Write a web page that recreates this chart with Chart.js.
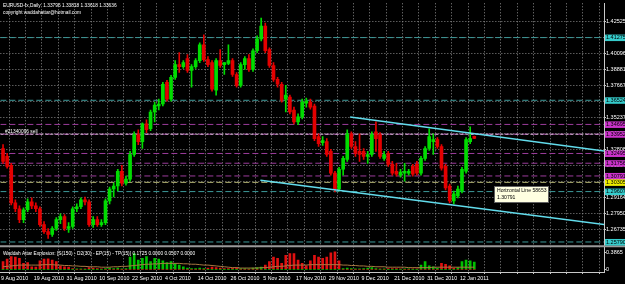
<!DOCTYPE html>
<html>
<head>
<meta charset="utf-8">
<script src="https://cdn.jsdelivr.net/npm/chart.js@4.4.0/dist/chart.umd.min.js"></script>
<style>
html, body { margin: 0; padding: 0; background: #000; }
#wrap { width: 625px; height: 284px; }
</style>
</head>
<body>
<div id="wrap"><canvas id="mt4" width="625" height="284"></canvas></div>
<script>
// EURUSD daily bars, one per trading day from 9 Aug 2010 (index 0) to 17 Jan 2011
var opens = [1.3287,1.3227,1.3160,1.2875,1.2831,1.2748,1.2823,1.2883,1.2853,1.2831,
  1.2711,1.2658,1.2636,1.2681,1.2748,1.2771,1.2681,1.2696,1.2831,1.2846,
  1.2898,1.2883,1.2711,1.2748,1.2711,1.2726,1.2890,1.2980,1.3003,1.3115,
  1.3025,1.3055,1.3242,1.3392,1.3339,1.3474,1.3437,1.3564,1.3609,1.3624,
  1.3788,1.3661,1.3826,1.3923,1.3908,1.3968,1.3878,1.3908,1.3953,1.4073,
  1.3961,1.3938,1.3729,1.3953,1.3923,1.3931,1.3953,1.3848,1.3766,1.3923,
  1.3968,1.3886,1.4028,1.4118,1.4215,1.4036,1.3916,1.3811,1.3774,1.3661,
  1.3676,1.3579,1.3489,1.3527,1.3631,1.3639,1.3609,1.3377,1.3332,1.3339,
  1.3265,1.3100,1.2980,1.3130,1.3205,1.3399,1.3302,1.3265,1.3265,1.3227,
  1.3242,1.3414,1.3392,1.3212,1.3250,1.3167,1.3115,1.3085,1.3100,1.3100,
  1.3152,1.3167,1.3100,1.3212,1.3287,1.3339,1.3354,1.3302,1.3152,1.3003,
  1.2890,1.2928,1.2965,1.3115,1.3339,1.33796];
var highs = [1.3317,1.3250,1.3175,1.2898,1.2853,1.2838,1.2905,1.2913,1.2875,1.2846,
  1.2733,1.2681,1.2696,1.2763,1.2793,1.2786,1.2726,1.2846,1.2868,1.2913,
  1.2920,1.2898,1.2771,1.2771,1.2748,1.2905,1.2995,1.3025,1.3130,1.3160,
  1.3078,1.3265,1.3414,1.3429,1.3482,1.3504,1.3579,1.3639,1.3661,1.3788,
  1.3803,1.3841,1.3953,1.4013,1.3953,1.3998,1.3923,1.3968,1.4088,1.4148,
  1.3983,1.3953,1.3968,1.4036,1.3938,1.4073,1.3968,1.3863,1.3938,1.3983,
  1.3998,1.4043,1.4140,1.4275,1.4238,1.4050,1.3938,1.3826,1.3788,1.3766,
  1.3691,1.3601,1.3549,1.3661,1.3669,1.3661,1.3624,1.3399,1.3377,1.3362,
  1.3280,1.3115,1.3145,1.3227,1.3429,1.3414,1.3339,1.3399,1.3287,1.3265,
  1.3414,1.3489,1.3407,1.3265,1.3265,1.3190,1.3175,1.3130,1.3175,1.3130,
  1.3167,1.3190,1.3227,1.3302,1.3437,1.3399,1.3369,1.3317,1.3167,1.3018,
  1.2965,1.3003,1.3145,1.3369,1.3452,1.33818];
var lows = [1.3175,1.3138,1.2860,1.2808,1.2726,1.2726,1.2808,1.2831,1.2808,1.2696,
  1.2644,1.2606,1.2621,1.2666,1.2718,1.2666,1.2651,1.2681,1.2808,1.2831,
  1.2860,1.2696,1.2689,1.2696,1.2696,1.2711,1.2868,1.2920,1.2965,1.3003,
  1.3010,1.3040,1.3227,1.3317,1.3287,1.3407,1.3422,1.3489,1.3579,1.3609,
  1.3646,1.3646,1.3811,1.3863,1.3893,1.3863,1.3751,1.3893,1.3938,1.3946,
  1.3908,1.3721,1.3691,1.3901,1.3848,1.3923,1.3833,1.3751,1.3751,1.3886,
  1.3871,1.3871,1.4013,1.4103,1.4013,1.3901,1.3796,1.3751,1.3639,1.3564,
  1.3549,1.3474,1.3467,1.3512,1.3601,1.3586,1.3347,1.3302,1.3310,1.3227,
  1.3085,1.2958,1.2965,1.3085,1.3190,1.3287,1.3227,1.3190,1.3205,1.3175,
  1.3227,1.3265,1.3212,1.3197,1.3152,1.3085,1.3078,1.3070,1.3040,1.3085,
  1.3078,1.3085,1.3085,1.3197,1.3272,1.3242,1.3287,1.3123,1.2973,1.2875,
  1.2868,1.2913,1.2950,1.3100,1.3324,1.33618];
var closes = [1.3190,1.3152,1.2875,1.2831,1.2748,1.2823,1.2883,1.2853,1.2831,1.2711,
  1.2658,1.2636,1.2681,1.2748,1.2771,1.2681,1.2696,1.2831,1.2846,1.2898,
  1.2883,1.2711,1.2748,1.2711,1.2726,1.2890,1.2980,1.3003,1.3115,1.3025,
  1.3055,1.3242,1.3392,1.3339,1.3474,1.3429,1.3564,1.3616,1.3624,1.3774,
  1.3661,1.3826,1.3923,1.3908,1.3938,1.3878,1.3908,1.3953,1.4073,1.3961,
  1.3923,1.3736,1.3953,1.3916,1.3938,1.3953,1.3848,1.3766,1.3923,1.3968,
  1.3886,1.4028,1.4118,1.4215,1.4028,1.3916,1.3811,1.3774,1.3654,1.3691,
  1.3564,1.3489,1.3527,1.3639,1.3646,1.3601,1.3362,1.3324,1.3347,1.3242,
  1.3100,1.2980,1.3130,1.3212,1.3399,1.3302,1.3250,1.3242,1.3227,1.3242,
  1.3392,1.3362,1.3227,1.3242,1.3167,1.3100,1.3093,1.3108,1.3115,1.3115,
  1.3093,1.3100,1.3212,1.3287,1.3377,1.3354,1.3302,1.3138,1.2988,1.2890,
  1.2943,1.2980,1.3130,1.3354,1.3362,1.33636];

// Waddah Attar Explosion sub-window
var waeUp = [0,0,0,0,0,0,0,0,0,0,0,0,0,0,0,0,0,0,0.01,0.01,
  0,0,0,0,0,0.02,0.03,0.02,0.03,0.01,0.02,
  0.29,0.37,0.22,0.26,0.30,0.18,0.26,0.24,0.20,0.16,0.18,0.14,0.10,0.06,0.03,0.02,0.02,0.03,0.02,
  0,0,0,0,0,0,0,0,
  0.02,0.02,0.01,0.03,0.04,0.05,
  0,0,0,0,0,0,0,0,0,0,0,0,0,0,0,0,0,0,0,
  0.02,0.03,0.02,0.01,0.01,0.02,0.03,0.04,0.02,
  0,0.01,0,0,0,0,0.01,0.01,0,0,
  0.10,0.18,0.08,0.06,0.03,
  0,0,0,0,
  0.04,0.18,0.22,0.20,0.1725];
var waeDown = [0.18,0.24,0.30,0.29,0.26,0.14,0.16,0.06,0.05,0.20,0.24,0.25,0.22,0.18,0.08,0.06,0.05,0.02,
  0,0,
  0.01,0.04,0.03,0.02,0.01,
  0,0,0,0,0,0,0,0,0,0,0,0,0,0,0,0,0,0,0,0,0,0,0,0,0,
  0.03,0.05,0.04,0.03,0.02,0.02,0.03,0.04,
  0,0,0,0,0,0,
  0.10,0.18,0.29,0.26,0.14,0.33,0.37,0.37,0.22,0.14,0.08,0.20,0.33,0.29,0.26,0.29,0.39,0.41,0.20,
  0,0,0,0,0,0,0,0,0,
  0.01,0,0.02,0.02,0.02,0.01,0,0,0.01,0.01,
  0,0,0,0,0,
  0.14,0.12,0.08,0.03,
  0,0,0,0,0];
var waeExplosion = [0.06,0.07,0.08,0.09,0.10,0.10,0.10,0.10,0.10,0.10,0.11,0.11,0.11,0.10,0.10,0.09,0.09,
  0.08,0.08,0.07,0.07,0.06,0.06,0.06,0.05,0.05,0.05,0.06,0.06,0.07,0.07,
  0.08,0.09,0.10,0.11,0.12,0.12,0.13,0.13,0.14,0.14,0.14,0.14,0.14,0.13,0.13,
  0.12,0.12,0.11,0.10,0.10,0.09,0.08,0.07,0.06,0.05,0.04,0.04,0.03,0.03,0.03,0.03,0.03,0.04,
  0.04,0.05,0.06,0.07,0.07,0.08,0.09,0.10,0.10,0.10,0.10,0.11,0.11,0.11,0.11,0.11,0.11,0.11,0.11,
  0.10,0.10,0.09,0.09,0.08,0.08,0.07,0.07,0.06,0.06,0.06,0.05,0.05,0.05,0.05,0.05,0.04,0.04,0.04,0.04,
  0.04,0.04,0.05,0.05,0.05,0.05,0.05,0.05,0.05,0.05,0.05,0.05,0.05];

// axis labels
var dateLabels = ['9 Aug 2010','19 Aug 2010','31 Aug 2010','10 Sep 2010','22 Sep 2010','4 Oct 2010','14 Oct 2010',
  '26 Oct 2010','5 Nov 2010','17 Nov 2010','29 Nov 2010','9 Dec 2010','21 Dec 2010','31 Dec 2010','12 Jan 2011'];
var dateIndex = [0,8,16,24,32,40,48,56,64,72,80,88,96,104,112];
var priceTicks = [1.42525,1.41310,1.40096,1.38881,1.37667,1.36452,1.35237,1.34023,1.32808,1.31594,1.30379,1.29164,1.27950,1.26735];
var waeTicks = [0, 0.3865];

// horizontal lines drawn on the chart
var levelPrices = [1.41275,1.36524,1.34695,1.33952,1.32495,1.31756,1.30791,1.30305,1.29607,1.25790];
var levelKinds = ['c','c','m','m','m','m','m','y','c','c'];
var sellPrice = 1.33952;
// trend lines: [bar index, price]
var upperTrend = [[84.7, 1.3526], [146.7, 1.3268]];
var lowerTrend = [[62.8, 1.3047], [146.7, 1.2711]];

var X_MIN = -0.66, X_MAX = 146.66;
var BULL = '#00dc00', BEAR = '#e40000';
var lineCol = { c: '#3c9a9a', m: '#9c3c9c', y: '#b0b070' };
var boxCol = { c: '#36cccc', m: '#cc33cc', y: '#eeee00' };
var FONT = '"Liberation Sans", Arial, sans-serif';

var idx = opens.map(function(_, i) { return i; });
function candleColor(c) {
  var i = c.dataIndex;
  return closes[i] >= opens[i] ? BULL : BEAR;
}

var datasets = [];
datasets.push({
  type: 'bar', label: 'wick', order: 3, grouped: false, barThickness: 1,
  data: idx.map(function(i) { return { x: i, y: [lows[i], highs[i]] }; }),
  backgroundColor: candleColor, xAxisID: 'x', yAxisID: 'y'
});
datasets.push({
  type: 'bar', label: 'body', order: 2, grouped: false, barThickness: 3, minBarLength: 1,
  data: idx.map(function(i) { return { x: i, y: [opens[i], closes[i]] }; }),
  backgroundColor: candleColor, xAxisID: 'x', yAxisID: 'y'
});
levelPrices.forEach(function(p, k) {
  datasets.push({
    type: 'line', order: 5, borderColor: lineCol[levelKinds[k]], borderWidth: 1, borderDash: [6, 3],
    pointRadius: 0, data: [{ x: X_MIN, y: p }, { x: X_MAX, y: p }], xAxisID: 'x', yAxisID: 'y'
  });
});
datasets.push({
  type: 'line', order: 4, borderColor: '#d2b4d2', borderWidth: 1, borderDash: [3, 2],
  pointRadius: 0, data: [{ x: X_MIN, y: sellPrice }, { x: X_MAX, y: sellPrice }], xAxisID: 'x', yAxisID: 'y'
});
[upperTrend, lowerTrend].forEach(function(t) {
  datasets.push({
    type: 'line', order: 1, borderColor: '#62dcec', borderWidth: 1.5, pointRadius: 0,
    data: t.map(function(p) { return { x: p[0], y: p[1] }; }), xAxisID: 'x', yAxisID: 'y'
  });
});
datasets.push({
  type: 'bar', order: 3, grouped: false, barThickness: 2, backgroundColor: '#00c000',
  data: idx.map(function(i) { return { x: i, y: waeUp[i] }; }), xAxisID: 'x', yAxisID: 'y2'
});
datasets.push({
  type: 'bar', order: 3, grouped: false, barThickness: 2, backgroundColor: '#e01010',
  data: idx.map(function(i) { return { x: i, y: waeDown[i] }; }), xAxisID: 'x', yAxisID: 'y2'
});
datasets.push({
  type: 'line', order: 2, borderColor: '#a87840', borderWidth: 1, pointRadius: 0,
  data: idx.map(function(i) { return { x: i, y: waeExplosion[i] }; }), xAxisID: 'x', yAxisID: 'y2'
});

var overlay = {
  id: 'overlay',
  beforeDraw: function(chart) {
    var ctx = chart.ctx;
    ctx.save();
    ctx.fillStyle = '#000';
    ctx.fillRect(0, 0, chart.width, chart.height);
    ctx.restore();
  },
  afterDraw: function(chart) {
    var ctx = chart.ctx, ya = chart.scales.y, y2 = chart.scales.y2, area = chart.chartArea;
    ctx.save();
    // sub-window separator
    ctx.strokeStyle = '#9a9a9a';
    ctx.lineWidth = 2;
    ctx.beginPath();
    ctx.moveTo(0, y2.top);
    ctx.lineTo(chart.width, y2.top);
    ctx.stroke();

    ctx.fillStyle = '#ffffff';
    ctx.font = '4.8px ' + FONT;
    ctx.textBaseline = 'top';
    ctx.textAlign = 'left';
    ctx.fillText('EURUSD-fx,Daily  1.33796 1.33818 1.33618 1.33636', 3, 3);
    ctx.fillText('copyright waddahattar@hotmail.com', 3, 10);
    ctx.fillText('Waddah Attar Explosion: [S(150) - D2(30) - EP(15) - TP(15)] 0.1725 0.0000 0.0507 0.0000', 3, y2.top + 5);

    var sy = ya.getPixelForValue(sellPrice);
    ctx.textBaseline = 'bottom';
    ctx.fillText('#21340096 sell', 5, sy - 0.5);

    // price boxes for the horizontal lines
    ctx.font = '5.5px ' + FONT;
    ctx.textBaseline = 'middle';
    levelPrices.forEach(function(p, k) {
      var py = ya.getPixelForValue(p);
      ctx.fillStyle = boxCol[levelKinds[k]];
      ctx.fillRect(area.right + 1, py - 3, 20, 6.5);
      ctx.fillStyle = '#000';
      ctx.fillText(p.toFixed(5), area.right + 2, py + 0.3);
    });

    // object tooltip
    var tx = 494, ty = 186;
    ctx.fillStyle = '#ffffe1';
    ctx.fillRect(tx, ty, 55, 17);
    ctx.strokeStyle = '#606060';
    ctx.lineWidth = 1;
    ctx.strokeRect(tx + 0.5, ty + 0.5, 54, 16);
    ctx.fillStyle = '#000';
    ctx.font = '5.1px ' + FONT;
    ctx.textBaseline = 'top';
    ctx.fillText('Horizontal Line 58653', tx + 3, ty + 2);
    ctx.fillText('1.30791', tx + 3, ty + 9);
    ctx.restore();
  }
};

new Chart(document.getElementById('mt4'), {
  type: 'bar',
  data: { datasets: datasets },
  plugins: [overlay],
  options: {
    responsive: false,
    devicePixelRatio: 1,
    animation: false,
    layout: { padding: 0 },
    plugins: { legend: { display: false }, tooltip: { enabled: false } },
    scales: {
      x: {
        type: 'linear', position: 'bottom', min: X_MIN, max: X_MAX, offset: false,
        afterBuildTicks: function(s) {
          var t = [];
          for (var v = -0.5; v <= X_MAX; v += 4) t.push({ value: v });
          s.ticks = t;
        },
        afterFit: function(s) { s.height = 12; },
        grid: { color: '#8a8a8a', lineWidth: 1, drawTicks: true, tickLength: 2, tickColor: '#c8c8c8' },
        border: { display: true, color: '#c8c8c8', width: 1, dash: [1, 2] },
        ticks: {
          color: '#ffffff', font: { family: FONT, size: 5.3 }, align: 'start', padding: 1,
          autoSkip: false, maxRotation: 0, minRotation: 0,
          callback: function(v) {
            var k = dateIndex.indexOf(v + 0.5);
            return k >= 0 ? dateLabels[k] : '';
          }
        }
      },
      y: {
        type: 'linear', position: 'right', stack: 'mt', stackWeight: 246,
        min: 1.25461, max: 1.43872,
        afterBuildTicks: function(s) { s.ticks = priceTicks.map(function(v) { return { value: v }; }); },
        afterFit: function(s) { s.width = 21; },
        grid: { color: '#8a8a8a', lineWidth: 1, drawTicks: true, tickLength: 2, tickColor: '#c8c8c8' },
        border: { display: true, color: '#c8c8c8', width: 1, dash: [1, 2] },
        ticks: {
          color: '#ffffff', font: { family: FONT, size: 5.5 }, padding: 0,
          callback: function(v) { return v.toFixed(5); }
        }
      },
      y2: {
        type: 'linear', position: 'right', stack: 'mt', stackWeight: 26,
        min: -0.063, max: 0.542,
        afterBuildTicks: function(s) { s.ticks = waeTicks.map(function(v) { return { value: v }; }); },
        afterFit: function(s) { s.width = 21; },
        grid: { drawOnChartArea: false, drawTicks: true, tickLength: 2, tickColor: '#c8c8c8' },
        border: { display: true, color: '#c8c8c8', width: 1 },
        ticks: {
          color: '#ffffff', font: { family: FONT, size: 5.5 }, padding: 0,
          callback: function(v) { return v === 0 ? '0' : v.toFixed(4); }
        }
      }
    }
  }
});
</script>
</body>
</html>
